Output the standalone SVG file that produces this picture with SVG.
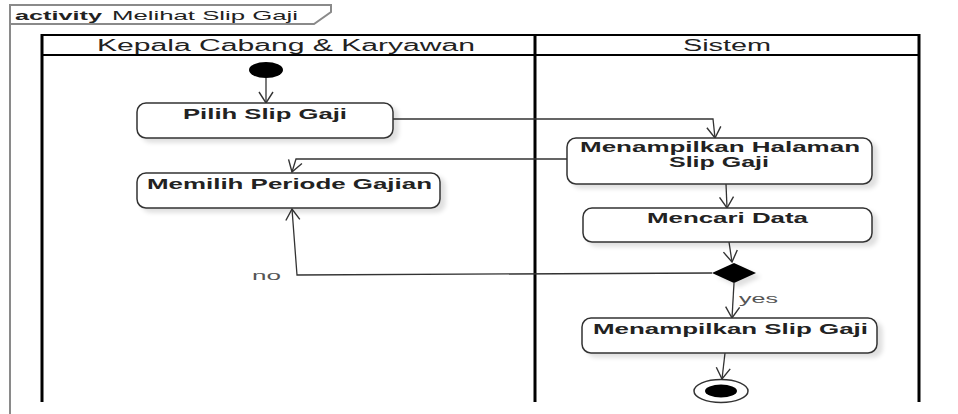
<svg xmlns="http://www.w3.org/2000/svg" width="958" height="414" viewBox="0 0 958 414">
  <style>
    .frame { fill: none; stroke: #8a8a8a; stroke-width: 2; }
    .lane { fill: none; stroke: #000; }
    .node { fill: #fff; stroke: #333; stroke-width: 1.5; filter: url(#shadow); }
    .label { font-family: "Liberation Sans", Arial, sans-serif; font-weight: bold; font-size: 14px; fill: #222; }
    .head { font-family: "Liberation Sans", Arial, sans-serif; font-size: 16px; fill: #222; }
    .guard { font-family: "Liberation Sans", Arial, sans-serif; font-size: 13px; fill: #555; }
    .edge { fill: none; stroke: #333; stroke-width: 1.3; marker-end: url(#open); }
  </style>
  <defs>
    <marker id="open" markerUnits="userSpaceOnUse" viewBox="-12 -9 14 18" refX="0" refY="0" markerWidth="14" markerHeight="18" orient="auto">
      <path d="M-11,-7 L0,0 L-11,7" fill="none" stroke="#333" stroke-width="1.4"/>
    </marker>
    <filter id="shadow" x="-10%" y="-20%" width="125%" height="150%">
      <feDropShadow dx="5" dy="4" stdDeviation="2" flood-color="#000" flood-opacity="0.12"/>
    </filter>
  </defs>

  <rect width="958" height="414" fill="#fff"/>

  <!-- activity frame and name tab -->
  <g id="frame">
    <path class="frame" d="M10,414 V5 H331 V12 L314,24 H10"/>
    <text x="15" y="20" font-family="Liberation Sans, Arial, sans-serif" font-size="13" fill="#222"><tspan font-weight="bold" textLength="87" lengthAdjust="spacingAndGlyphs">activity</tspan><tspan x="112" textLength="186" lengthAdjust="spacingAndGlyphs">Melihat Slip Gaji</tspan></text>
  </g>

  <!-- swimlane partitions -->
  <g id="lanes">
    <line class="lane" x1="41" y1="35" x2="919" y2="35" stroke-width="2"/>
    <line class="lane" x1="41" y1="55" x2="919" y2="55" stroke-width="2"/>
    <line class="lane" x1="42" y1="34" x2="42" y2="402" stroke-width="3"/>
    <line class="lane" x1="535" y1="34" x2="535" y2="402" stroke-width="3"/>
    <line class="lane" x1="919" y1="34" x2="919" y2="402" stroke-width="3"/>
    <text class="head" x="286" y="51" text-anchor="middle" textLength="378" lengthAdjust="spacingAndGlyphs">Kepala Cabang &amp; Karyawan</text>
    <text class="head" x="727" y="51" text-anchor="middle" textLength="88" lengthAdjust="spacingAndGlyphs">Sistem</text>
  </g>

  <!-- connectors -->
  <g id="edges">
    <path class="edge" d="M266,78 L266,103"/>
    <path class="edge" d="M393,119 H713 L715,138"/>
    <path class="edge" d="M567,159 H296 L292,172"/>
    <path class="edge" d="M726,184 L727,208"/>
    <path class="edge" d="M729,242 L732,262"/>
    <path class="edge" d="M712,273 L297,275 L292,209"/>
    <path class="edge" d="M734,283 L732,318"/>
    <path class="edge" d="M725,353 L722,379"/>
    <text class="guard" x="252" y="280" textLength="29" lengthAdjust="spacingAndGlyphs">no</text>
    <text class="guard" x="739" y="303" textLength="39" lengthAdjust="spacingAndGlyphs">yes</text>
  </g>

  <!-- nodes -->
  <g id="start">
    <ellipse cx="266" cy="70" rx="17" ry="8" fill="#000"/>
  </g>
  <g id="pilih-slip-gaji">
    <rect class="node" x="137" y="103" width="256" height="35" rx="9"/>
    <text class="label" x="265" y="119" text-anchor="middle" textLength="164" lengthAdjust="spacingAndGlyphs">Pilih Slip Gaji</text>
  </g>
  <g id="memilih-periode-gajian">
    <rect class="node" x="137" y="173" width="303" height="35" rx="9"/>
    <text class="label" x="289.5" y="189" text-anchor="middle" textLength="285" lengthAdjust="spacingAndGlyphs">Memilih Periode Gajian</text>
  </g>
  <g id="menampilkan-halaman">
    <rect class="node" x="567" y="138" width="305" height="46" rx="9"/>
    <text class="label" x="720" y="152" font-size="13" text-anchor="middle" textLength="280" lengthAdjust="spacingAndGlyphs">Menampilkan Halaman</text>
    <text class="label" x="719" y="167" font-size="13" text-anchor="middle" textLength="100" lengthAdjust="spacingAndGlyphs">Slip Gaji</text>
  </g>
  <g id="mencari-data">
    <rect class="node" x="583" y="208" width="289" height="34" rx="9"/>
    <text class="label" x="727.5" y="223" text-anchor="middle" textLength="161" lengthAdjust="spacingAndGlyphs">Mencari Data</text>
  </g>
  <g id="decision">
    <polygon points="712,273 734,263 756,273 734,283" fill="#000" filter="url(#shadow)"/>
  </g>
  <g id="menampilkan-slip-gaji">
    <rect class="node" x="582" y="318" width="295" height="35" rx="9"/>
    <text class="label" x="730.5" y="334" text-anchor="middle" textLength="275" lengthAdjust="spacingAndGlyphs">Menampilkan Slip Gaji</text>
  </g>
  <g id="end">
    <ellipse cx="721" cy="391" rx="27" ry="11.5" fill="#fff" stroke="#333" stroke-width="1.5"/>
    <ellipse cx="721" cy="391" rx="16" ry="6.5" fill="#000"/>
  </g>
</svg>
